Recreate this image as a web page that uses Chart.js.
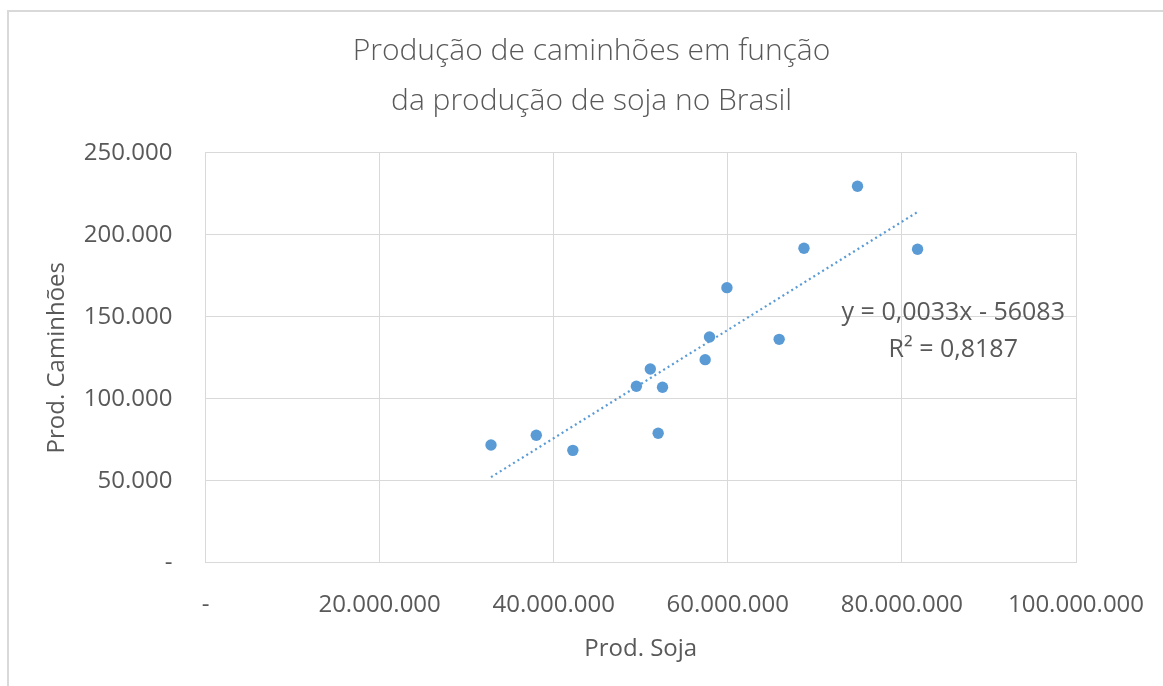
<!DOCTYPE html>
<html>
<head>
<meta charset="utf-8">
<script src="https://cdn.jsdelivr.net/npm/chart.js@4.4.1/dist/chart.umd.min.js"></script>
<style>
  html, body { margin: 0; padding: 0; background: #fff; }
  #frame { position: absolute; left: 7px; top: 10px; width: 1163px; height: 686px;
           border-left: 2px solid #d9d9d9; border-top: 2px solid #d9d9d9; }
  #wrap { position: absolute; left: 0; top: 0; width: 1163px; height: 686px; }
</style>
</head>
<body>
<div id="frame"></div>
<div id="wrap"><canvas id="c"></canvas></div>
<script>
// dados (produção de soja x produção de caminhões)
const soja = [32.8e6, 38.0e6, 42.2e6, 49.5e6, 51.1e6, 52.5e6, 52.0e6, 57.4e6, 57.9e6, 59.9e6, 65.9e6, 68.75e6, 74.9e6, 81.8e6];
const caminhoes = [71800, 77700, 68500, 107600, 118100, 107000, 78900, 123800, 137600, 167700, 136200, 191700, 229500, 191100];

// linha de tendência (Excel)
const SLOPE = 0.0033;
const INTERCEPT = -56083;
const eqLines = ['y = 0,0033x - 56083', 'R² = 0,8187'];

const titleLines = ['Produção de caminhões em função', 'da produção de soja no Brasil'];
const xTitle = 'Prod. Soja';
const yTitle = 'Prod. Caminhões';

const TXT = '#595959';
const GRID = '#d9d9d9';
const BLUE = '#5b9bd5';
const FONT = "'Open Sans', sans-serif";

function fmt(v) {
    if (v === 0) return '-';
    return String(Math.round(v)).replace(/\B(?=(\d{3})+(?!\d))/g, '.');
}

const xMin = Math.min(...soja), xMax = Math.max(...soja);
const trend = [
    { x: xMin, y: SLOPE * xMin + INTERCEPT },
    { x: xMax, y: SLOPE * xMax + INTERCEPT }
];

// rótulo da equação, ancorado em coordenadas de dados
const eqLabel = {
    id: 'eqLabel',
    afterDatasetsDraw(chart) {
        const xs = chart.scales.x, ys = chart.scales.y;
        const ctx = chart.ctx;
        ctx.save();
        ctx.fillStyle = TXT;
        ctx.font = "25px " + FONT;
        ctx.textAlign = 'center';
        ctx.textBaseline = 'middle';
        const cx = xs.getPixelForValue(85.9e6);
        ctx.fillText(eqLines[0], cx, ys.getPixelForValue(152300));
        ctx.fillText(eqLines[1], cx, ys.getPixelForValue(129700));
        ctx.restore();
    }
};

new Chart(document.getElementById('c'), {
    type: 'scatter',
    data: {
        datasets: [{
            label: 'dados',
            data: soja.map((s, i) => ({ x: s, y: caminhoes[i] })),
            backgroundColor: BLUE,
            borderWidth: 0,
            pointRadius: 5.7
        }, {
            label: 'tendência',
            type: 'line',
            data: trend,
            borderColor: BLUE,
            borderWidth: 2.2,
            borderDash: [2, 3.2],
            pointRadius: 0,
            fill: false
        }]
    },
    options: {
        responsive: true,
        maintainAspectRatio: false,
        animation: false,
        layout: { padding: { left: 20, right: 0, top: 0, bottom: 0 } },
        plugins: {
            legend: { display: false },
            tooltip: { enabled: false },
            title: {
                display: true,
                text: titleLines,
                color: TXT,
                font: { family: FONT, size: 30, weight: '300', lineHeight: 1.65 },
                padding: { top: 27, bottom: 26.7 }
            }
        },
        scales: {
            x: {
                type: 'linear',
                min: 0, max: 100000000,
                ticks: { stepSize: 20000000, color: TXT, font: { family: FONT, size: 24 }, padding: 28, maxRotation: 0, callback: fmt },
                grid: { color: GRID, drawTicks: false },
                border: { color: GRID },
                title: { display: true, text: xTitle, color: TXT, font: { family: FONT, size: 24 }, padding: { top: 0, bottom: 22.6 } },
                afterFit(scale) { scale.height = 123.3; scale.paddingRight = 87; }
            },
            y: {
                min: 0, max: 250000,
                ticks: { stepSize: 50000, color: TXT, font: { family: FONT, size: 24 }, padding: 33, callback: fmt },
                grid: { color: GRID, drawTicks: false },
                border: { color: GRID },
                title: { display: true, text: yTitle, color: TXT, font: { family: FONT, size: 24 }, padding: { top: 22.6, bottom: 0 } },
                afterFit(scale) { scale.width = 185.5; }
            }
        }
    },
    plugins: [eqLabel]
});
</script>
</body>
</html>
